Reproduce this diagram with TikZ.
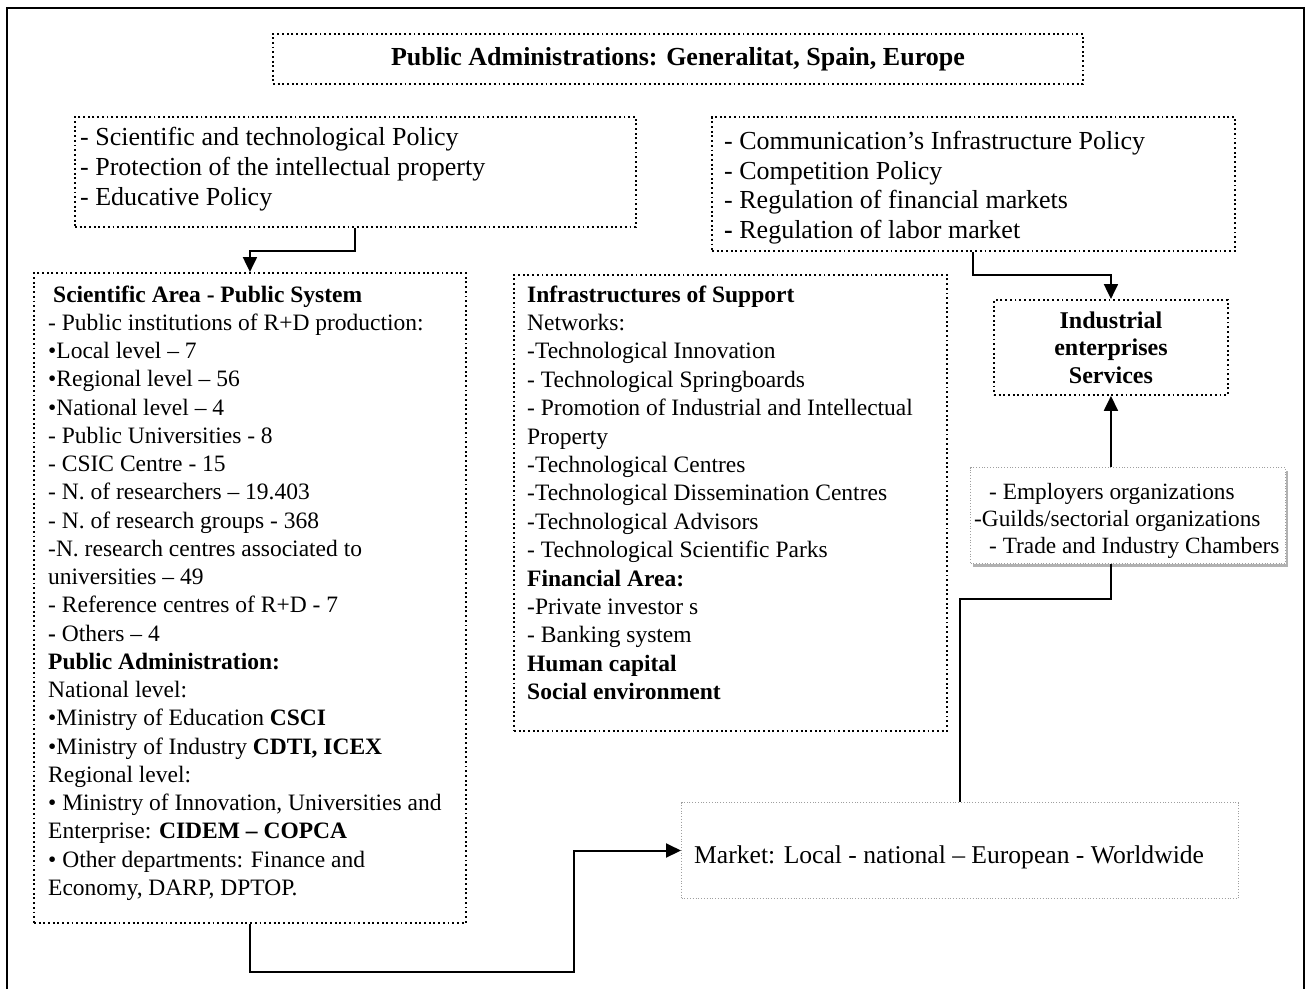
\documentclass[tikz,border=0pt]{standalone}
\usepackage{fontspec}
\setmainfont{Liberation Serif}
\usetikzlibrary{arrows.meta,shadows}
\begin{document}
\begin{tikzpicture}[x=1pt,y=-1pt,
  dotbox/.style={draw=black, line width=1.9pt, dash pattern=on 1.9pt off 2.8pt, inner sep=0pt, anchor=north west},
  graybox/.style={draw=gray!75, line width=1pt, dash pattern=on 1pt off 1.8pt, inner sep=0pt, anchor=north west, fill=white},
  txt/.style={inner sep=0pt, anchor=north west, align=left},
  fsmall/.style={font=\fontsize{23.5}{28.25}\selectfont},
  fbig/.style={font=\fontsize{26}{29.6}\selectfont},
  conn/.style={line width=2pt, -{Triangle[length=15pt,width=14pt]}},
  plainline/.style={line width=2pt},
  frameline/.style={line width=2.2pt}
]
\useasboundingbox (0,0) rectangle (1307,989);
\fill[white] (0,0) rectangle (1307,989);
% outer frame
\draw[frameline] (7,989) -- (7,8) -- (1304,8) -- (1304,989);

% top box
\node[dotbox, minimum width=810pt, minimum height=50pt, font=\fontsize{26}{30}\selectfont\bfseries] (top) at (272,33) {Public Administrations: Generalitat, Spain, Europe};

% box A
\node[dotbox, minimum width=561pt, minimum height=110pt] (A) at (74,116) {};
\node[txt, font=\fontsize{26}{30}\selectfont] (At) at (80,124) {\strut- Scientific and technological Policy\\- Protection of the intellectual property\\- Educative Policy};

% box B
\node[dotbox, minimum width=523pt, minimum height=134pt] (B) at (711,116) {};
\node[txt, fbig] (Bt) at (724,128.8) {\strut- Communication’s Infrastructure Policy\\- Competition Policy\\- Regulation of financial markets\\\textbf{-} Regulation of labor market};

% box C
\node[dotbox, minimum width=432pt, minimum height=650pt] (C) at (33,272) {};
\node[txt, fsmall] (Ct) at (48,282.2) {\strut\hspace*{5pt}\textbf{Scientific Area - Public System}\\
- Public institutions of R+D production:\\
•Local level – 7\\
•Regional level – 56\\
•National level – 4\\
- Public Universities - 8\\
- CSIC Centre - 15\\
- N. of researchers – 19.403\\
- N. of research groups - 368\\
-N. research centres associated to\\
universities – 49\\
- Reference centres of R+D - 7\\
\textbf{-} Others – 4\\
\textbf{Public Administration:}\\
National level:\\
•Ministry of Education \textbf{CSCI}\\
•Ministry of Industry \textbf{CDTI, ICEX}\\
Regional level:\\
• Ministry of Innovation, Universities and\\
Enterprise: \textbf{CIDEM – COPCA}\\
• Other departments: Finance and\\
Economy, DARP, DPTOP.};

% box D
\node[dotbox, minimum width=433pt, minimum height=456pt] (D) at (513,274) {};
\node[txt, font=\fontsize{23.5}{28.4}\selectfont] (Dt) at (527,282.1) {\strut\textbf{Infrastructures of Support}\\
Networks:\\
-Technological Innovation\\
- Technological Springboards\\
- Promotion of Industrial and Intellectual\\
Property\\
-Technological Centres\\
-Technological Dissemination Centres\\
-Technological Advisors\\
- Technological Scientific Parks\\
\textbf{Financial Area:}\\
-Private investor s\\
- Banking system\\
\textbf{Human capital}\\
\textbf{Social environment}};

% industrial box
\node[dotbox, minimum width=234pt, minimum height=95pt, align=center, font=\fontsize{24}{27.5}\selectfont\bfseries] (I) at (993,299) {Industrial\\enterprises\\Services};

% employers box
\node[graybox, minimum width=315pt, minimum height=96pt, drop shadow={shadow xshift=2pt, shadow yshift=-3pt, fill=gray!60, opacity=1}] (E) at (970,467) {};
\node[txt, font=\fontsize{23.3}{27}\selectfont] (Et) at (974,480.1) {\strut\hspace*{15pt}- Employers organizations\\-Guilds/sectorial organizations\\\hspace*{15pt}- Trade and Industry Chambers};

% market box
\node[graybox, minimum width=557pt, minimum height=96pt] (M) at (681,802) {};
\node[inner sep=0pt, anchor=base west, font=\fontsize{25.6}{30}\selectfont] (Mt) at (694,863) {Market: Local - national – European - Worldwide};

% connectors
\draw[conn] (A.south) -- ++(0,23) -| (C.north);
\draw[conn] (B.south) -- ++(0,23) -| (I.north);
\draw[conn] (I.south |- E.north) -- (I.south);
\draw[conn] (C.south) -- ++(0,48) -- ++(324,0) |- (M.west);
\draw[plainline] (M.north) -- ++(0,-203) -| (I.south |- E.south);
\end{tikzpicture}
\end{document}
